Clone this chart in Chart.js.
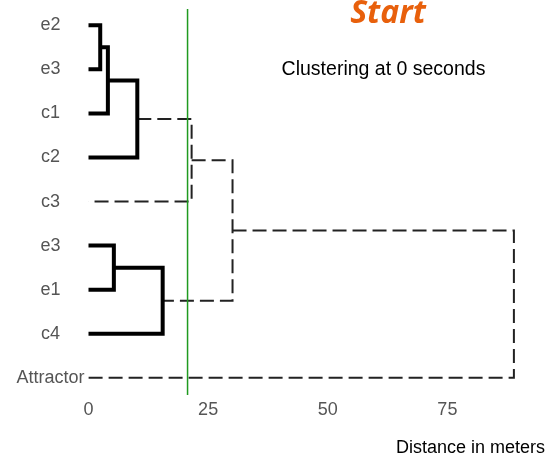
<!DOCTYPE html>
<html>
<head>
<meta charset="utf-8">
<script src="https://cdn.jsdelivr.net/npm/chart.js@4"></script>
<style>
  html, body { margin: 0; padding: 0; background: #fff; }
  #wrap { width: 551px; height: 456px; position: relative; }
</style>
</head>
<body>
<div id="wrap"><canvas id="dendro"></canvas></div>
<script>
// leaves, top to bottom
const leaves = ["e2", "e3", "c1", "c2", "c3", "e3", "e1", "c4", "Attractor"];

// merges: node ids 0..8 are leaves, each merge makes a new node 9, 10, ...
const mergeLeft  = [0, 9, 5, 10, 11, 12, 14, 15];
const mergeRight = [1, 2, 6, 3, 7, 4, 13, 8];
const mergeDist  = [2.45, 4.05, 5.3, 10.2, 15.5, 21.55, 30.1, 88.9];

// cut line and axis ticks
const cutoff = 20.7;
const xTicks = [0, 25, 50, 75];
const xRange = [0, 95.4];
const yRange = [-0.37, 8.39];

// node positions (x = height, y = row)
const nodeX = leaves.map(() => 0);
const nodeY = leaves.map((_, i) => i);
mergeDist.forEach((d, i) => {
    nodeX.push(d);
    nodeY.push((nodeY[mergeLeft[i]] + nodeY[mergeRight[i]]) / 2);
});

const datasets = [];

// green cut line (first = drawn on top)
datasets.push({
    data: [{ x: cutoff, y: yRange[0] }, { x: cutoff, y: yRange[1] }],
    borderColor: "#1f9a1f",
    borderWidth: 1.5
});

mergeDist.forEach((d, i) => {
    const a = mergeLeft[i], b = mergeRight[i];
    const above = d > cutoff;
    datasets.push({
        data: [
            { x: nodeX[a], y: nodeY[a] },
            { x: d, y: nodeY[a] },
            { x: d, y: nodeY[b] },
            { x: nodeX[b], y: nodeY[b] }
        ],
        borderColor: above ? "#222" : "#000",
        borderWidth: above ? 2 : 4,
        borderDash: above ? [14, 6] : [],
        borderJoinStyle: "miter",
        borderCapStyle: "butt"
    });
});

datasets.forEach(ds => {
    ds.showLine = true;
    ds.pointRadius = 0;
    ds.pointHoverRadius = 0;
    ds.tension = 0;
    ds.fill = false;
    ds.clip = false;
});

// free text on top of the plot
const textPlugin = {
    id: "texts",
    afterDraw(chart) {
        const ctx = chart.ctx;
        ctx.save();
        ctx.textBaseline = "alphabetic";

        ctx.fillStyle = "#e8600c";
        ctx.textAlign = "center";
        ctx.font = 'italic bold 32px "Open Sans"';
        ctx.fillText("Start", 388, 23);

        ctx.fillStyle = "#000";
        ctx.font = '19.5px "Liberation Sans", Arial';
        ctx.fillText("Clustering at 0 seconds", 383.5, 75);

        ctx.textAlign = "right";
        ctx.font = '18px "Liberation Sans", Arial';
        ctx.fillText("Distance in meters", 545, 453);
        ctx.restore();
    }
};

new Chart(document.getElementById("dendro"), {
    type: "scatter",
    data: { datasets: datasets },
    options: {
        responsive: true,
        maintainAspectRatio: false,
        animation: false,
        events: [],
        layout: { padding: { top: 9, right: 6, bottom: 0, left: 0 } },
        plugins: {
            legend: { display: false },
            tooltip: { enabled: false }
        },
        scales: {
            x: {
                type: "linear",
                min: xRange[0],
                max: xRange[1],
                grid: { display: false, drawTicks: false },
                border: { display: false },
                afterFit: s => { s.height = 61; s.paddingLeft = 0; s.paddingRight = 0; },
                afterBuildTicks: s => { s.ticks = xTicks.map(v => ({ value: v })); },
                ticks: {
                    padding: 4,
                    color: "#555",
                    font: { family: '"Liberation Sans", Arial', size: 18 }
                }
            },
            y: {
                type: "linear",
                reverse: true,
                min: yRange[0],
                max: yRange[1],
                grid: { display: false, drawTicks: false },
                border: { display: false },
                afterFit: s => { s.width = 88.5; s.paddingTop = 0; s.paddingBottom = 0; },
                afterBuildTicks: s => { s.ticks = leaves.map((_, i) => ({ value: i })); },
                ticks: {
                    padding: 4,
                    crossAlign: "center",
                    color: "#555",
                    font: { family: '"Liberation Sans", Arial', size: 18 },
                    callback: v => leaves[v]
                }
            }
        }
    },
    plugins: [textPlugin]
});
</script>
</body>
</html>
